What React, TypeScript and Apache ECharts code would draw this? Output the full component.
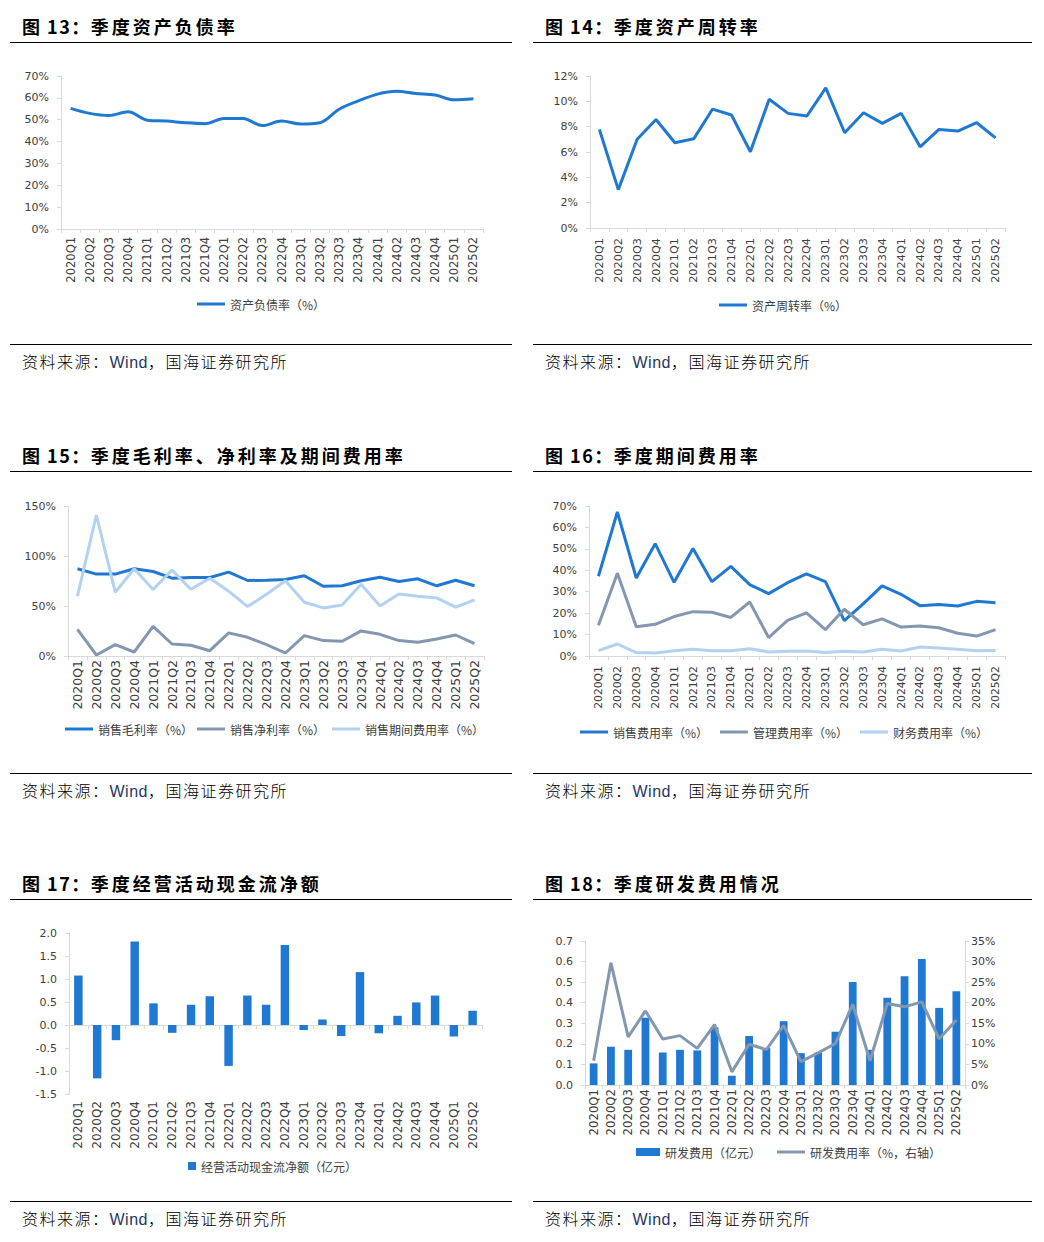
import React, { useEffect, useRef } from "react";
import * as echarts from "echarts";

// ---------------- DATA ----------------
const quarters = [
  "2020Q1", "2020Q2", "2020Q3", "2020Q4",
  "2021Q1", "2021Q2", "2021Q3", "2021Q4",
  "2022Q1", "2022Q2", "2022Q3", "2022Q4",
  "2023Q1", "2023Q2", "2023Q3", "2023Q4",
  "2024Q1", "2024Q2", "2024Q3", "2024Q4",
  "2025Q1", "2025Q2",
];

// 图13 资产负债率（%）
const debtRatio = [55.2, 52.9, 51.9, 53.6, 49.8, 49.4, 48.6, 48.2, 50.6, 50.5, 47.3, 49.4, 48.0, 48.6, 54.8, 58.6, 61.7, 63.0, 62.0, 61.3, 59.1, 59.6];
// 图14 资产周转率（%）
const assetTurnover = [7.78, 3.03, 7.0, 8.57, 6.73, 7.04, 9.39, 8.92, 6.02, 10.16, 9.05, 8.84, 11.06, 7.52, 9.1, 8.26, 9.05, 6.41, 7.78, 7.65, 8.31, 7.12];
// 图15
const grossMargin = [87.2, 81.9, 81.9, 87.2, 84.5, 77.8, 78.5, 78.5, 83.9, 75.5, 75.8, 76.5, 80.2, 69.8, 70.2, 75.2, 78.8, 74.5, 77.2, 70.2, 75.8, 70.2];
const netMargin = [26.7, 1.0, 11.4, 4.0, 29.7, 12.0, 10.7, 5.3, 23.1, 18.7, 11.4, 3.0, 20.4, 15.4, 14.7, 25.1, 21.7, 15.4, 13.7, 17.0, 21.0, 12.4];
const periodExpense = [59.8, 141, 63.8, 87.2, 66.5, 85.9, 66.8, 77.8, 64.8, 49.4, 61.8, 75.2, 53.8, 48.1, 51.1, 71.8, 50.1, 62.1, 59.8, 58.1, 48.8, 56.1];
// 图16
const sellingExpense = [37.2, 67.2, 36.4, 52.4, 34.4, 50.2, 34.7, 41.8, 33.3, 29.1, 34.2, 38.3, 34.7, 16.5, 24.3, 32.7, 28.8, 23.5, 24.0, 23.3, 25.5, 24.9];
const adminExpense = [14.3, 38.6, 13.7, 14.8, 18.4, 20.7, 20.4, 18.0, 25.2, 8.6, 16.6, 20.1, 12.3, 21.8, 14.6, 17.3, 13.5, 14.0, 13.2, 10.6, 9.3, 12.3];
const financeExpense = [2.5, 5.6, 1.6, 1.4, 2.5, 3.1, 2.5, 2.5, 3.4, 1.9, 2.2, 2.3, 1.6, 2.2, 1.9, 3.1, 2.3, 4.2, 3.7, 3.1, 2.5, 2.6];
// 图17 经营活动现金流净额（亿元）
const operatingCashFlow = [1.075, -1.16, -0.33, 1.815, 0.47, -0.17, 0.44, 0.625, -0.89, 0.64, 0.44, 1.74, -0.11, 0.12, -0.24, 1.15, -0.18, 0.2, 0.49, 0.64, -0.25, 0.31];
// 图18
const rdExpense = [0.105, 0.186, 0.171, 0.327, 0.158, 0.171, 0.168, 0.28, 0.045, 0.238, 0.18, 0.31, 0.155, 0.157, 0.259, 0.501, 0.171, 0.424, 0.529, 0.613, 0.375, 0.456];
const rdRatio = [5.9, 29.7, 11.7, 18.0, 11.2, 12.0, 8.9, 14.7, 3.2, 9.9, 8.6, 14.5, 5.7, 7.8, 10.1, 19.6, 5.9, 19.8, 19.0, 20.2, 11.2, 15.8];

// axis ranges [min, max, interval]
const range13 = [0, 70, 10];
const range14 = [0, 12, 2];
const range15 = [0, 150, 50];
const range16 = [0, 70, 10];
const range17 = [-1.5, 2.0, 0.5];
const range18L = [0, 0.7, 0.1];
const range18R = [0, 35, 5];

// text
const panels = [
  { col: 0, row: 0, fig: "图 13：", title: "季度资产负债率" },
  { col: 1, row: 0, fig: "图 14：", title: "季度资产周转率" },
  { col: 0, row: 1, fig: "图 15：", title: "季度毛利率、净利率及期间费用率" },
  { col: 1, row: 1, fig: "图 16：", title: "季度期间费用率" },
  { col: 0, row: 2, fig: "图 17：", title: "季度经营活动现金流净额" },
  { col: 1, row: 2, fig: "图 18：", title: "季度研发费用情况" },
];
const sourcePre = "资料来源：";
const sourceWind = "Wind";
const sourcePost = "，国海证券研究所";

// ---------------- STYLE ----------------
const BLUE = "#1f78d1";
const GRAY = "#8497b0";
const LIGHT = "#b3d1f0";
const AXIS_COLOR = "#d9d9d9";
const LABEL_COLOR = "#404040";
const NUM_FONT = "'DejaVu Sans', sans-serif";
const CJK_FONT = "'Noto Sans CJK SC', 'Noto Sans', sans-serif";

const colX = [{ ruleL: 10, ruleR: 512, text: 22 }, { ruleL: 533, ruleR: 1032, text: 545 }];
const rowY = [
  { title: 26, titleRule: 42, footRule: 344, foot: 361 },
  { title: 455, titleRule: 471, footRule: 773, foot: 790 },
  { title: 883, titleRule: 899, footRule: 1201, foot: 1218 },
];

function catAxis(gridIndex: number, margin: number, fontSize: number) {
  return {
    type: "category",
    gridIndex,
    data: quarters,
    boundaryGap: true,
    axisLine: { show: true, onZero: true, lineStyle: { color: AXIS_COLOR, width: 1 } },
    axisTick: { show: true, length: 4, lineStyle: { color: AXIS_COLOR } },
    axisLabel: { rotate: 90, interval: 0, margin, fontSize, color: LABEL_COLOR, fontFamily: NUM_FONT },
    splitLine: { show: false },
  };
}

function valAxis(gridIndex: number, r: number[], fmt: (v: number) => string, position = "left", margin = 12) {
  return {
    type: "value",
    gridIndex,
    position,
    min: r[0],
    max: r[1],
    interval: r[2],
    axisLine: { show: true, lineStyle: { color: AXIS_COLOR, width: 1 } },
    axisTick: { show: true, length: 4, lineStyle: { color: AXIS_COLOR } },
    axisLabel: { margin, fontSize: 11, color: LABEL_COLOR, fontFamily: NUM_FONT, formatter: fmt },
    splitLine: { show: false },
  };
}

const pct = (v: number) => `${Math.round(v)}%`;
const one = (v: number) => (Math.abs(v) < 1e-9 ? "0.0" : v.toFixed(1));

function legendAt(name: string, left: number, cy: number, w = 28, h = 3, icon = "rect") {
  return {
    data: [{ name, icon }],
    left,
    top: cy - 7,
    padding: 0,
    itemWidth: w,
    itemHeight: h,
    selectedMode: false,
    textStyle: { fontSize: 12, color: LABEL_COLOR, fontFamily: CJK_FONT },
  };
}

function lineSeries(name: string, data: number[], xi: number, yi: number, color: string, smooth: number | boolean = false) {
  return {
    type: "line",
    name,
    data,
    xAxisIndex: xi,
    yAxisIndex: yi,
    smooth,
    symbol: "none",
    lineStyle: { width: 3, color },
    itemStyle: { color },
  };
}

function barSeries(name: string, data: number[], xi: number, yi: number, color: string) {
  return {
    type: "bar",
    name,
    data,
    xAxisIndex: xi,
    yAxisIndex: yi,
    barWidth: "45%",
    itemStyle: { color },
  };
}

const option: any = {
  animation: false,
  backgroundColor: "transparent",
  grid: [
    { left: 61, top: 76, width: 422, height: 153 },
    { left: 590, top: 76, width: 415, height: 152 },
    { left: 68, top: 506, width: 416, height: 150 },
    { left: 589, top: 506, width: 416, height: 150 },
    { left: 69, top: 933, width: 413, height: 161 },
    { left: 585, top: 941, width: 380, height: 144 },
  ],
  xAxis: [
    catAxis(0, 8, 11.5),
    catAxis(1, 10, 11.3),
    catAxis(2, 4, 12.5),
    catAxis(3, 10, 10.8),
    catAxis(4, 7, 12),
    catAxis(5, 4, 11.7),
  ],
  yAxis: [
    valAxis(0, range13, pct),
    valAxis(1, range14, pct),
    valAxis(2, range15, pct),
    valAxis(3, range16, pct),
    valAxis(4, range17, one),
    valAxis(5, range18L, one),
    valAxis(5, range18R, pct, "right", 6),
  ],
  legend: [
    legendAt("资产负债率（%）", 197, 305),
    legendAt("资产周转率（%）", 719, 306),
    legendAt("销售毛利率（%）", 65, 730),
    legendAt("销售净利率（%）", 197, 730),
    legendAt("销售期间费用率（%）", 332, 730),
    legendAt("销售费用率（%）", 580, 733),
    legendAt("管理费用率（%）", 720, 733),
    legendAt("财务费用率（%）", 860, 733),
    legendAt("经营活动现金流净额（亿元）", 188, 1167, 8, 8),
    legendAt("研发费用（亿元）", 636, 1153, 24, 8),
    legendAt("研发费用率（%，右轴）", 777, 1153),
  ],
  series: [
    lineSeries("资产负债率（%）", debtRatio, 0, 0, BLUE, 0.35),
    lineSeries("资产周转率（%）", assetTurnover, 1, 1, BLUE),
    lineSeries("销售毛利率（%）", grossMargin, 2, 2, BLUE),
    lineSeries("销售净利率（%）", netMargin, 2, 2, GRAY),
    lineSeries("销售期间费用率（%）", periodExpense, 2, 2, LIGHT),
    lineSeries("销售费用率（%）", sellingExpense, 3, 3, BLUE),
    lineSeries("管理费用率（%）", adminExpense, 3, 3, GRAY),
    lineSeries("财务费用率（%）", financeExpense, 3, 3, LIGHT),
    barSeries("经营活动现金流净额（亿元）", operatingCashFlow, 4, 4, BLUE),
    barSeries("研发费用（亿元）", rdExpense, 5, 5, BLUE),
    lineSeries("研发费用率（%，右轴）", rdRatio, 5, 6, GRAY),
  ],
};

export default function App() {
  const ref = useRef<HTMLDivElement>(null);
  useEffect(() => {
    if (!ref.current) return;
    const chart = echarts.init(ref.current, null, { renderer: "svg" });
    chart.setOption(option);
    return () => chart.dispose();
  }, []);

  return (
    <div style={{ position: "absolute", left: 0, top: 0, width: 1044, height: 1242, background: "#fff", overflow: "hidden" }}>
      <div ref={ref} style={{ position: "absolute", left: 0, top: 0, width: 1044, height: 1242 }} />
      {panels.map((p, i) => {
        const cx = colX[p.col];
        const ry = rowY[p.row];
        return (
          <React.Fragment key={i}>
            <div
              style={{
                position: "absolute",
                left: cx.text,
                top: ry.title - 13,
                height: 26,
                lineHeight: "26px",
                fontSize: 18,
                fontWeight: 700,
                fontFamily: CJK_FONT,
                color: "#000",
                whiteSpace: "pre",
              }}
            >
              <span style={{ letterSpacing: 1.5 }}>{p.fig}</span>
              <span style={{ letterSpacing: 3 }}>{p.title}</span>
            </div>
            <div style={{ position: "absolute", left: cx.ruleL, width: cx.ruleR - cx.ruleL, top: ry.titleRule, height: 1, background: "#000" }} />
            <div style={{ position: "absolute", left: cx.ruleL, width: cx.ruleR - cx.ruleL, top: ry.footRule, height: 1, background: "#000" }} />
            <div
              style={{
                position: "absolute",
                left: cx.text,
                top: ry.foot - 11,
                height: 22,
                lineHeight: "22px",
                fontSize: 16,
                fontWeight: 300,
                letterSpacing: 1.5,
                fontFamily: CJK_FONT,
                color: "#000",
                whiteSpace: "pre",
              }}
            >
              {sourcePre}
              <span style={{ color: "#1f3763", fontFamily: "'Liberation Sans', Arial, sans-serif", letterSpacing: 0.5 }}>{sourceWind}</span>
              {sourcePost}
            </div>
          </React.Fragment>
        );
      })}
    </div>
  );
}
